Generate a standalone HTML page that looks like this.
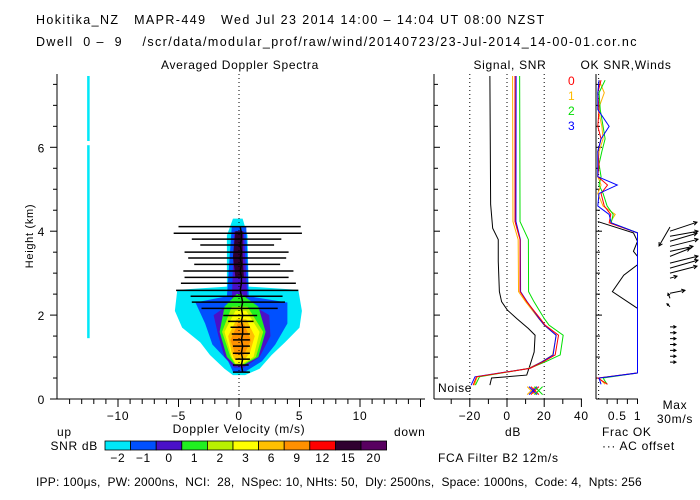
<!DOCTYPE html>
<html><head><meta charset="utf-8">
<style>
body{margin:0;background:#fff;}
svg{display:block;font-family:"Liberation Sans",sans-serif;font-size:12px;}
text{fill:#000;white-space:pre;letter-spacing:0.7px;}
.hdr{letter-spacing:1.4px;font-size:12.5px;}
.ftr{letter-spacing:0.2px;}
</style></head>
<body>
<svg id="chart" width="700" height="500" viewBox="0 0 700 500" xmlns="http://www.w3.org/2000/svg" xml:space="preserve">
<rect width="700" height="500" fill="#fff"/>
<text class="hdr" x="36" y="24">Hokitika_NZ   MAPR-449   Wed Jul 23 2014 14:00 – 14:04 UT 08:00 NZST</text>
<text class="hdr" x="36" y="46">Dwell  0 –  9    /scr/data/modular_prof/raw/wind/20140723/23-Jul-2014_14-00-01.cor.nc</text>
<text x="240" y="69" text-anchor="middle">Averaged Doppler Spectra</text>
<text x="510" y="69" text-anchor="middle">Signal, SNR</text>
<text x="626" y="69" text-anchor="middle">OK SNR,Winds</text>
<text transform="translate(33,236) rotate(-90)" text-anchor="middle" font-size="11">Height (km)</text>
<text x="57" y="436">up</text>
<text x="239" y="433" text-anchor="middle">Doppler Velocity (m/s)</text>
<text x="394" y="436">down</text>
<text x="98" y="450" text-anchor="end">SNR dB</text>
<text x="513" y="436" text-anchor="middle">dB</text>
<text x="602" y="436">Frac OK</text>
<text x="602" y="450">··· AC offset</text>
<text x="675" y="409" text-anchor="middle">Max</text>
<text x="675" y="423" text-anchor="middle">30m/s</text>
<text x="438" y="462">FCA Filter B2 12m/s</text>
<text class="ftr" x="36" y="486">IPP: 100μs,  PW: 2000ns,  NCI:  28,  NSpec: 10, NHts: 50,  Dly: 2500ns,  Space: 1000ns,  Code: 4,  Npts: 256</text>
<text x="568" y="85" style="fill:#f00">0</text>
<text x="568" y="100" style="fill:#fb0">1</text>
<text x="568" y="115" style="fill:#0d0">2</text>
<text x="568" y="130" style="fill:#00f">3</text>
<text x="438" y="392">Noise</text>
</svg>
<script>
// ---- data ----
var snrLevels=['-2','-1','0','1','2','3','6','9','12','15','20'];
var snrColors=['#00e8f8','#0050ff','#4a10c8','#20f020','#b8f000','#ffff00','#ffc000','#ff9000','#ff0000','#300030','#580060'];
// contour rows: [height km, v left, v right]
var lvlM2=[[0.57,-0.5,0.5],[0.72,-1.2,1.7],[1.05,-2.4,2.7],[1.35,-3.2,3.8],[1.7,-4.7,5.0],[2.1,-5.3,5.2],[2.6,-5.1,4.9],[2.68,-1.0,0.8],[3.9,-1.0,0.7],[4.3,-0.5,0.3]];
var lvlM1=[[0.65,-0.5,0.5],[0.9,-0.9,1.9],[1.3,-2.2,3.0],[1.8,-2.8,4.0],[2.3,-3.6,4.0],[2.45,-1.0,0.8],[4.1,-0.6,0.6]];
var lvl0=[[0.75,-0.4,0.4],[1.0,-1.2,1.7],[1.5,-1.7,2.6],[2.0,-2.1,2.5],[2.3,-0.6,0.7],[4.0,-0.4,0.4]];
var lvl1=[[0.8,-0.3,0.3],[1.0,-1.0,1.6],[1.6,-1.6,2.2],[2.2,-1.2,1.6],[2.5,-0.2,0.2]];
var lvl2=[[0.82,-0.3,0.3],[1.0,-0.7,1.4],[1.6,-1.4,2.0],[2.2,-0.6,0.7]];
var lvl3=[[0.85,-0.3,0.3],[1.0,-0.6,1.2],[1.6,-1.2,1.7],[2.1,-0.3,0.6]];
var lvl6=[[0.95,-0.4,0.5],[1.1,-0.6,0.9],[1.5,-0.9,1.3],[1.9,-0.2,0.6]];
var lvl9=[[1.05,-0.3,0.4],[1.4,-0.7,1.0],[1.8,-0.1,0.4]];
var lvl15=[[2.9,-0.3,0.4],[3.4,-0.5,0.3],[4.0,-0.3,0.3]];
var contourSets=[[lvlM2,0],[lvlM1,1],[lvl0,2],[lvl1,3],[lvl2,4],[lvl3,5],[lvl6,6],[lvl9,7],[lvl15,9]];
// spectral width bars
var widthH=[4.11,3.95,3.81,3.67,3.50,3.36,3.21,3.05,2.90,2.76,2.59,2.45,2.31,2.16,1.99,1.85,1.71,1.55,1.41,1.26,1.09,0.95,0.81,0.64];
var widthLo=[-5.0,-5.4,-3.9,-3.2,-4.5,-4.2,-3.7,-4.6,-4.5,-4.8,-5.2,-4.0,-3.9,-3.1,-1.3,-0.9,-0.7,-0.6,-0.5,-0.5,-0.5,-0.3,-0.5,-0.5];
var widthHi=[5.1,5.2,3.5,2.9,4.1,3.9,3.4,4.5,4.1,4.7,4.9,3.6,3.8,3.2,1.5,1.2,0.9,0.9,0.9,0.9,0.9,0.9,0.8,0.9];
var meanV=[0.1,0.2,0.2,0.1,0.2,0.1,0.2,0.1,0.2,0.2,0.1,0.2,0.3,0.2,0.3,0.2,0.3,0.3,0.2,0.3,0.2,0.3,0.2,0.3];
// signal panel
var noiseH=[7.7,4.64,4.07,3.8,3.28,2.56,2.32,2.12,1.92,1.68,1.52,1.12,0.81,0.57,0.5,0.33];
var noiseDb=[-9.2,-8.8,-7.7,-4.7,-4.7,-4.1,-2.9,0.2,5.2,11.5,15.1,14.6,12.4,10.6,-8.3,-9.2];
var sigH=[7.7,4.23,3.8,2.56,2.32,1.92,1.76,1.52,1.05,0.89,0.73,0.53,0.33];
var sig0=[4.3,4.3,7.0,7.0,10.6,17.8,20.5,27.7,25.9,19.6,12.4,-16.4,-18.2];
var sig1=[3.0,3.2,6.0,6.2,10.0,17.0,20.0,26.5,24.5,18.8,11.6,-16.0,-17.6];
var sig2=[6.8,7.0,11.5,11.6,14.5,20.0,22.6,30.2,28.6,20.8,12.0,-14.8,-17.0];
var sig3=[4.9,4.8,7.2,7.3,10.8,17.2,20.1,26.4,24.8,18.9,12.2,-17.2,-19.3];
// OK fraction panel
var fracH=[7.6,7.3,6.9,6.5,6.2,5.9,5.6,5.3,5.1,4.9,4.6,4.4,4.2,3.96,0.62,0.5,0.35];
var frac0=[0.1,0.02,0.05,0.02,0.1,0.02,0.05,0.02,0.26,0.1,0.18,0.34,0.3,1,1,0.02,0.26];
var frac1=[0.05,0.18,0.03,0.12,0.15,0.05,0.03,0.02,0.1,0.02,0.15,0.45,0.32,1,1,0.05,0.2];
var frac2=[0.2,0.05,0.08,0.15,0.2,0.12,0.05,0.1,0.05,0.15,0.25,0.4,0.35,1,1,0.15,0.25];
var frac3=[0.05,0.02,0.02,0.3,0.1,0.02,0.02,0.02,0.5,0.05,0.02,0.3,0.35,1,1,0.05,0.1];
var fracBH=[4.23,3.96,3.76,3.52,3.4,3.2,2.95,2.56,2.16,0.62];
var fracB=[0.02,0.9,1,0.9,1,1,0.66,0.38,1,1];
// winds
var windH=[4.1,4.0,3.88,3.76,3.64,3.52,3.40,3.24,3.12,3.0,2.88,2.52,2.40,2.20,1.72,1.58,1.44,1.30,1.16,1.02,0.88];
var windU=[-11,27,28,27,28,23,20,28,28,27,7,15,-2,-3,6,6,6,6,6,6,6];
var windV=[-19,9,5,8,7,5,8,7,8,7,2,3,5,3,0,0,0,0,0,0,0];
var sigColors=['#ff0000','#ffb000','#00e000','#0000ff'];

// ---- scales ----
function yH(h){return 399-41.95*h;}
function xV(v){return 239+12.1*v;}
function xDb(d){return 507+1.86*d;}
function xF(f){return 597+40.5*f;}
var svg=document.getElementById('chart');
var NS='http://www.w3.org/2000/svg';
function mk(tag,attrs,name){var e=document.createElementNS(NS,tag);for(var k in attrs)e.setAttribute(k,attrs[k]);


svg.appendChild(e);return e;}
function line(x1,y1,x2,y2,name,st){return mk('line',{x1:x1,y1:y1,x2:x2,y2:y2,stroke:st||'#000','stroke-width':1},name);}

mk('rect',{x:xV(-12.55),y:yH(7.7),width:2.5,height:yH(6.15)-yH(7.7),fill:snrColors[0]},'spectra-noise-strip');
mk('rect',{x:xV(-12.55),y:yH(6.05),width:2.5,height:yH(1.45)-yH(6.05),fill:snrColors[0]},'spectra-noise-strip-lower');

contourSets.forEach(function(cs){
  var rows=cs[0],pts=[];
  rows.forEach(function(r){pts.push(xV(r[1])+','+yH(r[0]));});
  for(var i=rows.length-1;i>=0;i--)pts.push(xV(rows[i][2])+','+yH(rows[i][0]));
  mk('polygon',{points:pts.join(' '),fill:snrColors[cs[1]]},'spectra-contour-'+snrLevels[cs[1]]);
});
line(xV(0),74,xV(0),399,'zero-velocity-line').setAttribute('stroke-dasharray','1,3');
widthH.forEach(function(h,i){line(xV(widthLo[i]),yH(h),xV(widthHi[i]),yH(h),'spectral-width-bar').setAttribute('stroke-width','1.5');});
mk('polyline',{points:widthH.map(function(h,i){return xV(meanV[i])+','+yH(h);}).join(' '),fill:'none',stroke:'#000','stroke-width':1.5},'mean-velocity-line');

line(57,74,57,399,'height-axis');
line(57,399,425,399,'velocity-axis');
for(var h=0;h<=7.5;h+=0.5){var maj=(h%2===0);line(maj?50:53,yH(h),57,yH(h),'height-tick');
 if(maj){var t=mk('text',{x:45,y:yH(h)+5,'text-anchor':'end'},'height-tick-label');t.textContent=h;}}
for(var v=-15;v<=15;v++){var x=xV(v);if(x<58||x>425)continue;var m=(v%5===0);line(x,399,x,m?407:404,'velocity-tick');
 if(m&&x<410){var t=mk('text',{x:x,y:420,'text-anchor':'middle'},'velocity-tick-label');t.textContent=(v<0?'−':'')+Math.abs(v);}}

snrColors.forEach(function(c,i){var x=105+i*25.6;mk('rect',{x:x,y:441,width:25.6,height:9,fill:c,stroke:'#000','stroke-width':0.8},'colorbar-cell-'+snrLevels[i]);
 var t=mk('text',{x:x+12.8,y:462,'text-anchor':'middle'},'colorbar-label');t.textContent=snrLevels[i].replace('-','−');});

line(434,74,434,399,'signal-left-axis');
line(434,399,582,399,'signal-bottom-axis');
for(var h2=0.5;h2<=7.5;h2+=0.5)line(434,yH(h2),h2%2===0?440:438,yH(h2),'signal-height-tick');
[-30,-20,-10,0,10,20,30,40].forEach(function(d){var x=xDb(d);line(x,399,x,d%20===0?407:404,'db-tick');
 if(d%20===0){var t=mk('text',{x:x,y:420,'text-anchor':'middle'},'db-tick-label');t.textContent=(d<0?'−':'')+Math.abs(d);}});
[-20,0,20].forEach(function(d){line(xDb(d),74,xDb(d),399,'db-grid-line').setAttribute('stroke-dasharray','1,3');});
mk('polyline',{points:noiseH.map(function(h,i){return xDb(noiseDb[i])+','+yH(h);}).join(' '),fill:'none',stroke:'#000'},'noise-line');
[sig1,sig2,sig3,sig0].forEach(function(s,k){var idx=[1,2,3,0][k];
 mk('polyline',{points:sigH.map(function(h,i){return xDb(s[i])+','+yH(h);}).join(' '),fill:'none',stroke:sigColors[idx]},'snr-line-'+idx);});
[13,15,14,17].forEach(function(d,k){var x=xDb(d),y=yH(0.2);
 mk('path',{d:'M'+(x-4)+' '+(y-4)+'L'+(x+4)+' '+(y+4)+'M'+(x-4)+' '+(y+4)+'L'+(x+4)+' '+(y-4),stroke:sigColors[[1,0,3,2][k]],fill:'none'},'noise-marker');});

line(596,74,596,399,'frac-left-axis');
line(596,399,638,399,'frac-bottom-axis');
for(var h3=0.5;h3<=7.5;h3+=0.5)line(596,yH(h3),h3%2===0?602:600,yH(h3),'frac-height-tick');
[0.25,0.5,0.75,1].forEach(function(f){var x=xF(f);line(x,399,x,404,'frac-tick');});
[[0.5,'0.5'],[1,'1']].forEach(function(p){var t=mk('text',{x:xF(p[0]),y:420,'text-anchor':'middle'},'frac-tick-label');t.textContent=p[1];});
line(xF(0.04),74,xF(0.04),399,'ac-offset-line').setAttribute('stroke-dasharray','1,3');
mk('polyline',{points:fracBH.map(function(h,i){return xF(fracB[i])+','+yH(h);}).join(' '),fill:'none',stroke:'#000'},'frac-ok-black');
[frac1,frac2,frac0,frac3].forEach(function(s,k){var idx=[1,2,0,3][k];
 mk('polyline',{points:fracH.map(function(h,i){return xF(s[i])+','+yH(h);}).join(' '),fill:'none',stroke:sigColors[idx]},'frac-ok-line-'+idx);});

windH.forEach(function(h,i){var x0=670,y0=yH(h),x1=x0+windU[i],y1=y0-windV[i];
 var a=Math.atan2(y1-y0,x1-x0),L=Math.hypot(x1-x0,y1-y0),hs=Math.min(4,L*0.5);
 mk('path',{d:'M'+x0+' '+y0+'L'+x1+' '+y1+'M'+(x1-hs*Math.cos(a-0.5))+' '+(y1-hs*Math.sin(a-0.5))+'L'+x1+' '+y1+'L'+(x1-hs*Math.cos(a+0.5))+' '+(y1-hs*Math.sin(a+0.5)),stroke:'#000',fill:'none'},'wind-arrow');});
</script>
</body></html>
